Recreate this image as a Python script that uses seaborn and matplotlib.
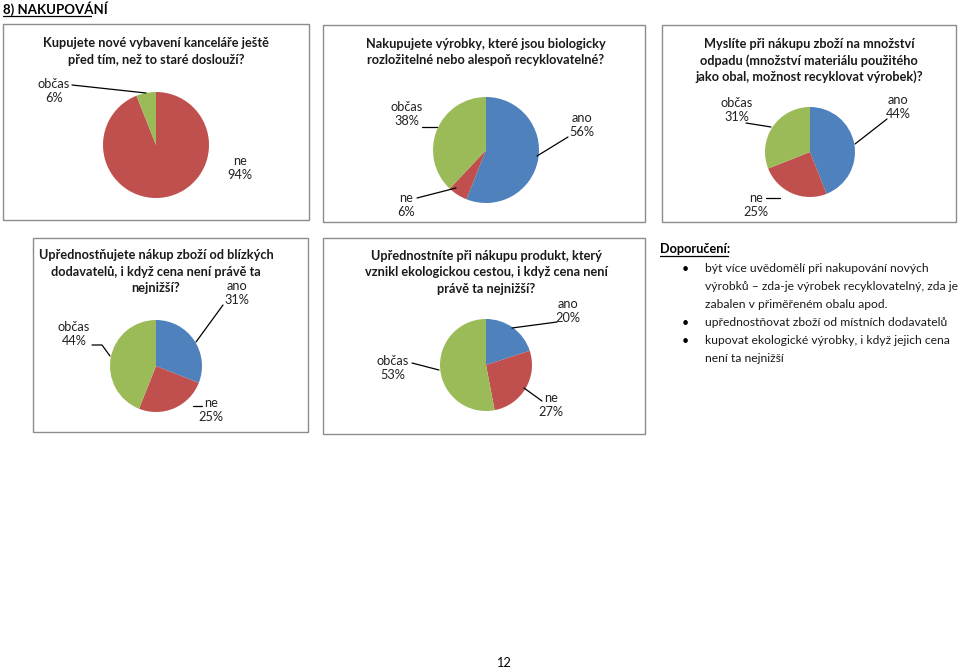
import matplotlib
matplotlib.use("Agg")
import matplotlib.pyplot as plt
from matplotlib.patches import Rectangle
import seaborn as sns

# data read from the page
categories = ["ano", "ne", "občas"]
q1_values = [0, 94, 6]
q2_values = [56, 6, 38]
q3_values = [44, 25, 31]
q4_values = [31, 25, 44]
q5_values = [20, 27, 53]

q1_title = ["Kupujete nové vybavení kanceláře ještě", "před tím, než to staré doslouží?"]
q2_title = ["Nakupujete výrobky, které jsou biologicky", "rozložitelné nebo alespoň recyklovatelné?"]
q3_title = ["Myslíte při nákupu zboží na množství", "odpadu (množství materiálu použitého",
            "jako obal, možnost recyklovat výrobek)?"]
q4_title = ["Upřednostňujete nákup zboží od blízkých", "dodavatelů, i když cena není právě ta",
            "nejnižší?"]
q5_title = ["Upřednostníte při nákupu produkt, který", "vznikl ekologickou cestou, i když cena není",
            "právě ta nejnižší?"]

header = "8) NAKUPOVÁNÍ"
rec_title = "Doporučení:"
rec_items = [
    ["být více uvědomělí při nakupování nových",
     "výrobků – zda-je výrobek recyklovatelný, zda je",
     "zabalen v přiměřeném obalu apod."],
    ["upřednostňovat zboží od místních dodavatelů"],
    ["kupovat ekologické výrobky, i když jejich cena",
     "není ta nejnižší"],
]
page_no = "12"

colors = sns.color_palette(["#4F81BD", "#C0504D", "#9BBB59"])

sns.set_theme(style="white")
plt.rcParams["font.family"] = ["Lato", "DejaVu Sans"]

W, H = 960, 670
fig = plt.figure(figsize=(9.6, 6.7), dpi=100)
ax = fig.add_axes([0, 0, 1, 1])


def Y(y):
    return H - y


# layout: box, first title line, pie centre/radius, labels (text pos, leader line)
charts = [
    dict(values=q1_values, title=q1_title, box=(3, 24, 309, 220), tpos=(156, 43),
         center=(156, 145), r=53,
         labels={1: ((240, 168), None),
                 2: ((54, 91), [(72, 85), (146, 93)])}),
    dict(values=q2_values, title=q2_title, box=(323, 25, 645, 222), tpos=(486, 44),
         center=(486, 150), r=53,
         labels={0: ((582, 125), [(568, 137), (537, 156)]),
                 1: ((406, 205), [(417, 198), (456, 188)]),
                 2: ((407, 114), [(422, 127), (437, 127)])}),
    dict(values=q3_values, title=q3_title, box=(662, 25, 956, 222), tpos=(809, 44),
         center=(810, 152), r=45,
         labels={0: ((898, 107), [(887, 119), (855, 144)]),
                 1: ((756, 205), [(766, 198), (780, 198)]),
                 2: ((737, 110), [(746, 123), (771, 127)])}),
    dict(values=q4_values, title=q4_title, box=(33, 238, 308, 432), tpos=(156, 255),
         center=(156, 366), r=46,
         labels={0: ((237, 293), [(223, 305), (196, 342)]),
                 1: ((211, 410), [(202, 406), (193, 406)]),
                 2: ((74, 334), [(92, 345), (102, 345), (110, 356)])}),
    dict(values=q5_values, title=q5_title, box=(323, 238, 645, 434), tpos=(486, 256),
         center=(486, 365), r=46,
         labels={0: ((568, 311), [(557, 322), (512, 328)]),
                 1: ((551, 405), [(542, 401), (524, 388)]),
                 2: ((393, 368), [(412, 363), (439, 370)])}),
]

for ch in charts:
    x0, y0, x1, y1 = ch["box"]
    ax.add_patch(Rectangle((x0, Y(y1)), x1 - x0, y1 - y0, fill=False,
                           edgecolor="#8c8c8c", linewidth=1.0))
    tx0, ty0 = ch["tpos"]
    for k, line in enumerate(ch["title"]):
        ax.text(tx0, Y(ty0 + 16.5 * k), line, ha="center", va="center",
                fontsize=9.2, fontweight="bold", color="#1a1a1a")
    cx, cy = ch["center"]
    ax.pie(ch["values"], colors=colors, startangle=90, counterclock=False,
           center=(cx, Y(cy)), radius=ch["r"], frame=True,
           wedgeprops=dict(linewidth=0))
    for i, ((tx, ty), line) in ch["labels"].items():
        ax.text(tx, Y(ty), f"{categories[i]}\n{ch['values'][i]}%", ha="center",
                va="center", fontsize=9.2, color="#222222", linespacing=1.25)
        if line:
            ax.plot([p[0] for p in line], [Y(p[1]) for p in line],
                    color="black", linewidth=0.9)

# header
ax.text(3, Y(9), header, ha="left", va="center", fontsize=9.5, fontweight="bold",
        color="black")
ax.plot([3, 91], [Y(16), Y(16)], color="black", linewidth=0.9)

# recommendations
ax.text(660, Y(249), rec_title, ha="left", va="center", fontsize=9.2,
        fontweight="bold", color="black")
ax.plot([660, 728], [Y(256), Y(256)], color="black", linewidth=0.9)
line_y = 269
for item in rec_items:
    ax.text(685, Y(line_y), "•", ha="center", va="center", fontsize=9, color="black")
    for line in item:
        ax.text(705, Y(line_y), line, ha="left", va="center", fontsize=8.7,
                color="#1a1a1a")
        line_y += 18

ax.text(503, Y(663), page_no, ha="center", va="center", fontsize=9.2, color="black")

ax.set_xlim(0, W)
ax.set_ylim(0, H)
ax.set_axis_off()

fig.savefig("out.png", dpi=100)
